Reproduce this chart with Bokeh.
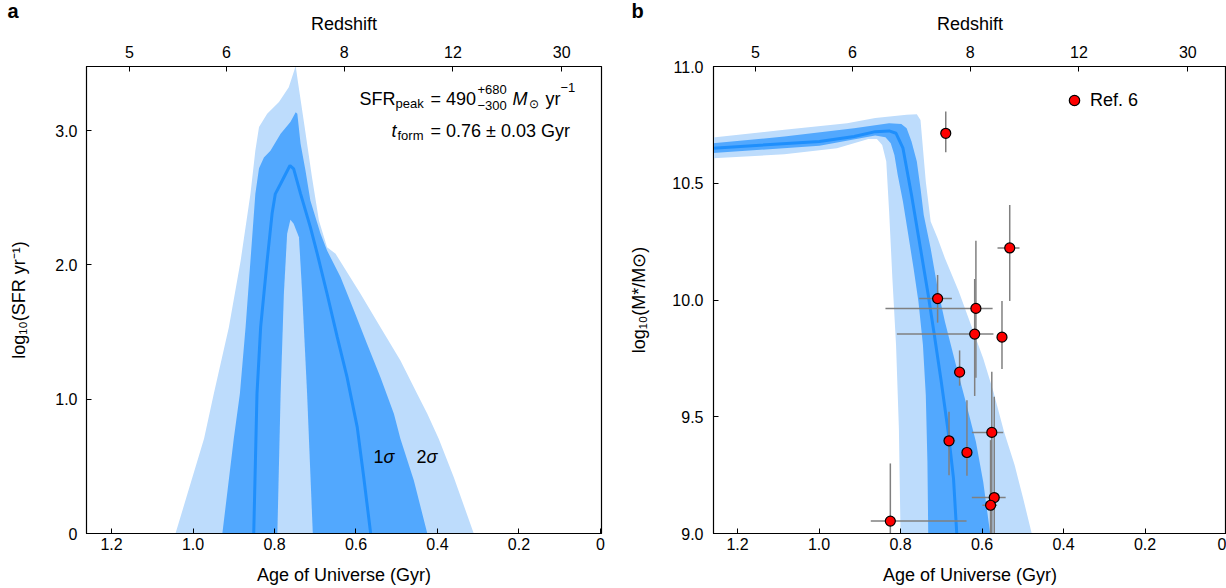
from bokeh.plotting import figure
from bokeh.layouts import row
from bokeh.models import (LinearAxis, FixedTicker, Range1d, Label, Legend, LegendItem,
                          NumeralTickFormatter)
from bokeh.embed import file_html
from bokeh.resources import INLINE

FONT = "Liberation Sans"
LIGHT = "#bddcfc"
DARK = "#52a8fe"
LINE = "#1f8ffc"

# ---------------- shared axes ----------------
age_ticks = [1.2, 1.0, 0.8, 0.6, 0.4, 0.2, 0.0]
z_ages = [1.156, 0.918, 0.629, 0.362, 0.095]
z_labels = ["5", "6", "8", "12", "30"]

# ---------------- panel a: SFH ----------------
a_light_up_age = [1.043, 0.973, 0.949, 0.912, 0.883, 0.859, 0.847, 0.838, 0.818, 0.789, 0.765, 0.748,
                  0.743, 0.726, 0.708, 0.691, 0.671, 0.650, 0.589, 0.540, 0.491, 0.450, 0.425, 0.397,
                  0.360, 0.311]
a_light_up_log = [0.0, 0.705, 1.040, 1.536, 2.033, 2.529, 2.852, 3.026, 3.125, 3.212, 3.323, 3.48,
                  3.373, 3.026, 2.653, 2.331, 2.132, 2.082, 1.785, 1.536, 1.288, 1.040, 0.891, 0.705,
                  0.419, 0.0]

a_dark_up_age = [0.928, 0.900, 0.885, 0.871, 0.859, 0.847, 0.838, 0.826, 0.810, 0.785, 0.761, 0.748,
                 0.744, 0.736, 0.724, 0.712, 0.687, 0.671, 0.638, 0.605, 0.573, 0.540, 0.507, 0.491,
                 0.458, 0.425]
a_dark_up_log = [0.0, 0.705, 1.040, 1.536, 2.033, 2.529, 2.720, 2.800, 2.850, 2.976, 3.063, 3.137,
                 3.125, 2.901, 2.703, 2.480, 2.231, 2.107, 1.909, 1.660, 1.412, 1.164, 0.891, 0.705,
                 0.395, 0.0]

a_dark_lo_age = [0.793, 0.785, 0.777, 0.769, 0.761, 0.753, 0.740, 0.732, 0.720, 0.706]
a_dark_lo_log = [0.0, 1.040, 1.785, 2.231, 2.336, 2.306, 2.206, 1.785, 1.040, 0.0]

a_med_age = [0.851, 0.843, 0.834, 0.818, 0.806, 0.798, 0.785, 0.762, 0.753, 0.736, 0.712, 0.695,
             0.671, 0.646, 0.622, 0.597, 0.581, 0.564]
a_med_log = [0.0, 1.040, 1.536, 2.033, 2.380, 2.529, 2.604, 2.740, 2.715, 2.529, 2.281, 2.082,
             1.785, 1.462, 1.164, 0.792, 0.419, 0.0]

# ---------------- panel b: stellar mass ----------------
b_light_up_age = [1.2615, 1.085, 0.931, 0.862, 0.785, 0.760, 0.751, 0.738, 0.726, 0.709, 0.691, 0.657,
                  0.627, 0.597, 0.572, 0.546, 0.520, 0.499, 0.478]
b_light_up_m = [10.696, 10.729, 10.757, 10.779, 10.793, 10.796, 10.771, 10.507, 10.336, 10.264, 10.179,
                10.036, 9.893, 9.750, 9.607, 9.436, 9.293, 9.150, 9.0]
b_light_lo_age = [1.2615, 1.085, 0.956, 0.879, 0.858, 0.845, 0.835, 0.828, 0.820, 0.811, 0.804, 0.800]
b_light_lo_m = [10.607, 10.624, 10.650, 10.690, 10.690, 10.664, 10.593, 10.379, 10.093, 9.807, 9.450, 9.0]

b_dark_up_age = [1.2615, 1.085, 0.914, 0.828, 0.798, 0.785, 0.773, 0.760, 0.751, 0.743, 0.726, 0.709,
                 0.691, 0.666, 0.640, 0.615, 0.597, 0.580]
b_dark_up_m = [10.671, 10.700, 10.736, 10.757, 10.754, 10.736, 10.679, 10.593, 10.479, 10.364, 10.221,
               10.050, 9.907, 9.736, 9.564, 9.393, 9.221, 9.0]
b_dark_lo_age = [1.2615, 0.999, 0.862, 0.837, 0.824, 0.815, 0.807, 0.794, 0.781, 0.768, 0.756, 0.745,
                 0.738, 0.734, 0.732]
b_dark_lo_m = [10.629, 10.661, 10.704, 10.697, 10.671, 10.621, 10.536, 10.421, 10.279, 10.136, 9.993,
               9.807, 9.593, 9.307, 9.0]

b_med_age = [1.2615, 0.999, 0.914, 0.862, 0.828, 0.811, 0.794, 0.773, 0.751, 0.732, 0.717, 0.700,
             0.683, 0.670, 0.662]
b_med_m = [10.650, 10.679, 10.700, 10.721, 10.724, 10.714, 10.650, 10.450, 10.221, 10.021, 9.850,
           9.650, 9.436, 9.236, 9.0]

# Ref. 6 galaxies
ref_age = [0.689, 0.532, 0.709, 0.615, 0.618, 0.551, 0.655, 0.681, 0.637, 0.576, 0.570, 0.579, 0.825]
ref_m = [10.714, 10.223, 10.006, 9.964, 9.854, 9.841, 9.691, 9.397, 9.347, 9.433, 9.154, 9.121, 9.053]
ref_age_old = [0.689, 0.562, 0.754, 0.837, 0.809, 0.551, 0.655, 0.694, 0.637, 0.625, 0.625, 0.599, 0.873]
ref_age_young = [0.689, 0.508, 0.674, 0.574, 0.572, 0.551, 0.655, 0.666, 0.637, 0.548, 0.542, 0.563, 0.638]
ref_m_hi = [10.807, 10.407, 10.107, 10.254, 10.090, 9.996, 9.784, 9.521, 9.571, 9.693, 9.586, 9.400, 9.300]
ref_m_lo = [10.633, 9.996, 9.903, 9.667, 9.589, 9.704, 9.633, 9.250, 9.247, 8.950, 8.950, 8.950, 8.950]


def style(p, ylabel, yticks, y_standoff, y_label_standoff, panel_letter, letter_offset):
    p.grid.visible = False
    p.outline_line_color = "black"
    p.outline_line_width = 1.2
    p.background_fill_color = "white"
    p.border_fill_color = "white"

    bottom = p.below[0]
    bottom.ticker = FixedTicker(ticks=age_ticks)
    bottom.formatter = NumeralTickFormatter(format="0.0")
    bottom.major_label_overrides = {0: "0"}
    bottom.axis_label = "Age of Universe (Gyr)"
    bottom.major_label_standoff = 4
    bottom.axis_label_standoff = 12

    top = LinearAxis(ticker=FixedTicker(ticks=z_ages),
                     major_label_overrides=dict(zip(z_ages, z_labels)),
                     axis_label="Redshift", major_label_standoff=9, axis_label_standoff=9)
    p.add_layout(top, "above")

    left = p.left[0]
    left.ticker = FixedTicker(ticks=yticks)
    left.formatter = NumeralTickFormatter(format="0.0")
    left.major_label_overrides = {0: "0"}
    left.axis_label = ylabel
    left.major_label_standoff = y_standoff
    left.axis_label_standoff = y_label_standoff

    for ax in [bottom, top, left]:
        ax.major_tick_in = 5
        ax.major_tick_out = 0
        ax.minor_tick_line_color = None
        ax.axis_line_color = "black"
        ax.major_tick_line_color = "black"
        ax.major_label_text_font = FONT
        ax.major_label_text_font_size = "16px"
        ax.major_label_text_color = "black"
        ax.axis_label_text_font = FONT
        ax.axis_label_text_font_size = "18px"
        ax.axis_label_text_font_style = "normal"
        ax.axis_label_text_color = "black"

    # panel letter as a (nearly) zero-height title; the empty first line with a
    # small line height nudges the letter a few pixels down from the canvas edge
    p.title.text = "\n" + panel_letter
    p.title.text_line_height = 0.33
    p.title.align = "left"
    p.title.vertical_align = "top"
    p.title.offset = letter_offset
    p.title.standoff = -26
    p.title.text_font = FONT
    p.title.text_font_size = "20px"
    p.title.text_font_style = "bold"
    p.title.text_color = "black"


def lab(p, x, y, text, size="18px", style_="normal"):
    p.add_layout(Label(x=x, y=y, x_units="screen", y_units="screen", text=text,
                       text_font=FONT, text_font_size=size, text_font_style=style_,
                       text_align="left", text_baseline="alphabetic", text_color="black"))


# ---------------- figure a ----------------
pa = figure(width=620, height=588, x_range=Range1d(1.2614, -0.0025), y_range=Range1d(0, 3.477),
            output_backend="svg", toolbar_location=None, title_location="above",
            min_border_left=86, min_border_right=19, min_border_top=66, min_border_bottom=55)
pa.patch(a_light_up_age, a_light_up_log, fill_color=LIGHT, line_color=None)
pa.patch(a_dark_up_age, a_dark_up_log, fill_color=DARK, line_color=None)
pa.patch(a_dark_lo_age, a_dark_lo_log, fill_color=LIGHT, line_color=None)
pa.line(a_med_age, a_med_log, line_color=LINE, line_width=3)
style(pa, "log\u2081\u2080(SFR yr\u207b\u00b9)", [0, 1, 2, 3], 9, 23, "a", -79)

# annotation text (screen units relative to frame)
lab(pa, 273, 435, "SFR")
lab(pa, 309, 430, "peak", "13px")
lab(pa, 344, 435, "= 490")
lab(pa, 391, 444, "+680", "13px")
lab(pa, 391, 428, "\u2212300", "13px")
lab(pa, 426, 435, "M", style_="italic")
lab(pa, 442, 430, "\u2299", "12px")
lab(pa, 459, 435, "yr")
lab(pa, 474, 446, "\u22121", "13px")
lab(pa, 305, 403, "t", style_="italic")
lab(pa, 311, 398, "form", "13px")
lab(pa, 344, 403, "= 0.76 \u00b1 0.03 Gyr")
lab(pa, 287, 77, "1")
lab(pa, 297, 77, "\u03c3", style_="italic")
lab(pa, 330, 77, "2")
lab(pa, 340, 77, "\u03c3", style_="italic")

# ---------------- figure b ----------------
pb = figure(width=606, height=588, x_range=Range1d(1.259, 0.0), y_range=Range1d(9.0, 11.0),
            output_backend="svg", toolbar_location=None, title_location="above",
            min_border_left=93, min_border_right=0, min_border_top=66, min_border_bottom=55)
pb.patch(b_light_up_age + b_light_lo_age[::-1], b_light_up_m + b_light_lo_m[::-1],
         fill_color=LIGHT, line_color=None)
pb.patch(b_dark_up_age + b_dark_lo_age[::-1], b_dark_up_m + b_dark_lo_m[::-1],
         fill_color=DARK, line_color=None)
pb.line(b_med_age, b_med_m, line_color=LINE, line_width=3)
pb.segment(x0=ref_age_old, y0=ref_m, x1=ref_age_young, y1=ref_m, line_color="#808080", line_width=1.5)
pb.segment(x0=ref_age, y0=ref_m_lo, x1=ref_age, y1=ref_m_hi, line_color="#808080", line_width=1.5)
dots = pb.scatter(ref_age, ref_m, size=10, fill_color="#ff0000", line_color="black", line_width=1.2)
style(pb, "log\u2081\u2080(M*/M\u2299)", [9.0, 9.5, 10.0, 10.5, 11.0], 10, 20, "b", -82)

leg = Legend(items=[LegendItem(label="Ref. 6", renderers=[dots])], location=(348, 420),
             border_line_color=None, background_fill_alpha=0, padding=0, margin=0, spacing=0,
             glyph_width=26, glyph_height=26, label_standoff=3, label_text_font=FONT,
             label_text_font_size="18px", label_height=20, label_text_color="black")
pb.add_layout(leg)

layout = row(pa, pb)
open("out.html", "w").write(file_html(layout, INLINE))
